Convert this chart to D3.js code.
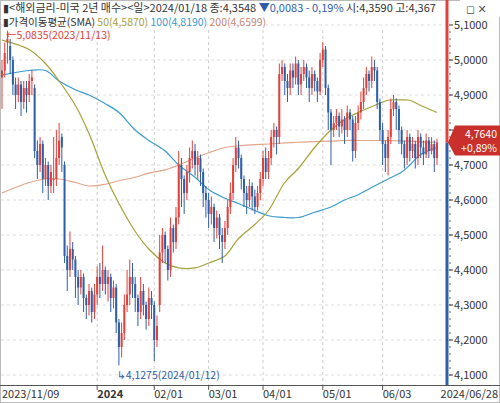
<!DOCTYPE html><html><head><meta charset="utf-8"><script src="https://cdn.jsdelivr.net/npm/d3@7"></script>
<style>body{margin:0;background:#fff}text{font-family:"Noto Sans CJK KR","DejaVu Sans",sans-serif}</style></head><body>
<svg id="c" width="500" height="403"></svg>
<script>
// [open, close, high, low]
const candles = [
[4.95,4.97,5.00,4.86],[4.97,5.02,5.05,4.95],[5.05,5.06,5.0835,4.99],[5.04,5.00,5.06,4.96],[5.00,4.93,5.01,4.90],
[4.93,4.90,4.95,4.86],[4.90,4.93,4.95,4.88],[4.93,4.88,4.94,4.84],[4.88,4.92,4.94,4.86],[4.92,4.90,4.94,4.85],[4.90,4.94,4.96,4.88],[4.94,4.95,4.97,4.90],
[4.92,4.74,4.93,4.72],[4.74,4.70,4.77,4.66],[4.70,4.76,4.78,4.68],[4.76,4.66,4.77,4.62],[4.66,4.70,4.72,4.64],[4.70,4.64,4.71,4.60],[4.64,4.68,4.70,4.62],[4.66,4.66,4.78,4.62],[4.66,4.72,4.80,4.64],[4.72,4.77,4.82,4.70],[4.78,4.75,4.79,4.68],
[4.70,4.44,4.71,4.42],[4.44,4.40,4.47,4.34],[4.40,4.46,4.51,4.38],[4.46,4.43,4.48,4.40],[4.43,4.38,4.44,4.32],[4.38,4.35,4.40,4.30],[4.35,4.38,4.40,4.33],[4.38,4.32,4.39,4.28],[4.32,4.30,4.33,4.26],[4.30,4.34,4.36,4.27],[4.34,4.28,4.35,4.25],[4.28,4.33,4.36,4.26],[4.33,4.38,4.41,4.30],[4.38,4.36,4.42,4.32],
[4.36,4.40,4.47,4.34],[4.40,4.36,4.41,4.33],[4.36,4.38,4.40,4.31],[4.38,4.32,4.39,4.28],[4.32,4.35,4.37,4.29],[4.35,4.25,4.36,4.22],[4.25,4.18,4.26,4.1275],[4.18,4.22,4.25,4.15],[4.22,4.30,4.33,4.20],
[4.30,4.33,4.40,4.28],[4.33,4.38,4.43,4.30],[4.38,4.36,4.42,4.32],[4.36,4.32,4.38,4.28],[4.32,4.28,4.33,4.24],[4.28,4.34,4.38,4.26],[4.34,4.30,4.36,4.27],[4.30,4.26,4.31,4.23],[4.26,4.32,4.35,4.24],[4.32,4.30,4.34,4.26],[4.30,4.20,4.31,4.14],[4.20,4.24,4.27,4.18],
[4.30,4.45,4.50,4.28],[4.45,4.50,4.52,4.42],[4.50,4.46,4.51,4.42],[4.46,4.40,4.47,4.37],[4.40,4.52,4.55,4.38],[4.52,4.48,4.53,4.45],[4.48,4.55,4.58,4.46],
[4.55,4.70,4.74,4.53],[4.70,4.66,4.72,4.58],[4.66,4.62,4.67,4.56],[4.62,4.68,4.70,4.60],[4.68,4.72,4.75,4.65],[4.72,4.74,4.77,4.69],[4.74,4.70,4.76,4.67],[4.70,4.72,4.74,4.66],
[4.72,4.68,4.73,4.64],[4.68,4.62,4.69,4.58],[4.62,4.60,4.64,4.55],[4.60,4.56,4.62,4.52],[4.56,4.58,4.61,4.53],[4.58,4.52,4.59,4.48],[4.52,4.55,4.57,4.49],[4.55,4.50,4.56,4.46],[4.50,4.48,4.52,4.42],[4.48,4.52,4.54,4.46],
[4.52,4.58,4.60,4.50],[4.58,4.62,4.65,4.56],[4.62,4.70,4.72,4.60],[4.70,4.75,4.78,4.68],[4.75,4.72,4.77,4.69],[4.72,4.66,4.73,4.63],
[4.66,4.62,4.67,4.58],[4.62,4.60,4.64,4.56],[4.60,4.64,4.66,4.58],[4.64,4.61,4.65,4.57],[4.61,4.58,4.63,4.56],[4.58,4.62,4.64,4.57],[4.62,4.66,4.68,4.60],[4.66,4.72,4.74,4.64],
[4.72,4.68,4.75,4.66],[4.68,4.72,4.74,4.66],[4.72,4.78,4.80,4.70],[4.78,4.80,4.82,4.75],[4.80,4.78,4.81,4.73],[4.78,4.96,4.99,4.76],
[4.96,4.98,5.00,4.94],[4.98,4.94,4.99,4.90],[4.94,4.92,4.96,4.88],[4.92,4.97,4.99,4.90],[4.97,4.95,4.99,4.92],[4.95,4.99,5.01,4.93],[4.99,4.93,5.00,4.90],[4.93,4.96,4.98,4.90],
[4.96,4.98,5.00,4.94],[4.98,4.95,4.99,4.92],[4.95,4.92,4.97,4.88],[4.92,4.96,4.98,4.90],[4.96,4.94,4.97,4.91],[4.94,4.91,4.95,4.88],[4.91,5.00,5.02,4.90],[5.00,5.03,5.05,4.98],
[5.03,4.92,5.04,4.90],[4.92,4.85,4.93,4.80],[4.85,4.80,4.86,4.70],[4.80,4.82,4.84,4.78],[4.82,4.84,4.86,4.80],[4.84,4.81,4.85,4.78],[4.81,4.83,4.86,4.79],[4.83,4.80,4.84,4.76],[4.80,4.85,4.87,4.78],[4.85,4.83,4.86,4.80],[4.83,4.74,4.84,4.71],
[4.74,4.82,4.84,4.72],[4.82,4.85,4.87,4.80],[4.85,4.88,4.91,4.83],[4.88,4.92,4.95,4.86],[4.92,4.96,4.98,4.90],[4.96,4.94,4.97,4.91],[4.94,4.98,5.01,4.92],[4.98,4.97,5.00,4.94],[4.97,4.88,4.98,4.86],[4.88,4.80,4.89,4.77],
[4.80,4.76,4.82,4.70],[4.76,4.72,4.77,4.68],[4.72,4.78,4.80,4.67],[4.78,4.86,4.89,4.76],[4.86,4.88,4.90,4.84],[4.88,4.86,4.89,4.80],[4.86,4.80,4.87,4.76],
[4.80,4.76,4.81,4.73],[4.76,4.72,4.77,4.69],[4.72,4.78,4.80,4.70],[4.78,4.74,4.79,4.71],[4.74,4.76,4.78,4.72],[4.76,4.72,4.77,4.69],[4.72,4.78,4.80,4.70],[4.78,4.75,4.79,4.72],[4.75,4.73,4.77,4.70],[4.73,4.77,4.79,4.72],[4.77,4.74,4.78,4.72],[4.74,4.76,4.78,4.73],[4.76,4.72,4.77,4.68],[4.72,4.764,4.775,4.70]
];
// moving averages sampled at candle index
const maIdx = [0,10,16,21,27,32,38,43,49,54,60,65,71,76,82,87,93,98,104,109,115,121,126,131,137,142,147,150,154,160];
const sma50  = [5.057,5.03,4.99,4.94,4.87,4.79,4.67,4.59,4.51,4.46,4.42,4.406,4.406,4.42,4.44,4.49,4.53,4.57,4.65,4.69,4.75,4.80,4.83,4.85,4.87,4.885,4.886,4.885,4.87,4.85];
const sma100 = [4.957,4.97,4.97,4.94,4.915,4.90,4.875,4.85,4.80,4.77,4.74,4.70,4.665,4.63,4.605,4.59,4.57,4.555,4.55,4.55,4.565,4.58,4.60,4.615,4.64,4.66,4.68,4.70,4.73,4.75];
const sma200 = [4.62,4.65,4.66,4.66,4.65,4.64,4.645,4.655,4.665,4.677,4.686,4.70,4.72,4.735,4.75,4.755,4.758,4.76,4.763,4.765,4.767,4.768,4.77,4.77,4.77,4.77,4.769,4.768,4.766,4.765];
const yTicks = [4.1,4.2,4.3,4.4,4.5,4.6,4.7,4.8,4.9,5.0,5.1];
const xTickIdx = [35,56,76,96,118,140];
const xTickLab = ["2024","02/01","03/01","04/01","05/01","06/03"];

const svg = d3.select("#c");
const x = d3.scaleLinear().domain([0,160]).range([2,437]);
const y = d3.scaleLinear().domain([4.1,5.1]).range([375,25]);
const fmt = v => d3.format(".4f")(v).replace(".",",");
const RED="#e0413a", BLUE="#2f5ea8";

svg.append("rect").attr("x",0.5).attr("y",0.5).attr("width",499).attr("height",402).attr("fill","#fff").attr("stroke","#bbb");
svg.append("g").selectAll("line").data(yTicks).join("line")
 .attr("x1",1).attr("x2",447).attr("y1",d=>y(d)).attr("y2",d=>y(d))
 .attr("stroke","#ddd").attr("stroke-dasharray","3,3");
svg.append("g").selectAll("line").data(xTickIdx).join("line")
 .attr("x1",d=>x(d)).attr("x2",d=>x(d)).attr("y1",30).attr("y2",385)
 .attr("stroke","#ccc").attr("stroke-dasharray","3,3");

const line = d3.line().x(d=>x(d[0])).y(d=>y(d[1])).curve(d3.curveCatmullRom);
[[sma200,"#e3a58a"],[sma100,"#3a9bd0"],[sma50,"#a8a23a"]].forEach(([s,c])=>{
 svg.append("path").attr("d",line(maIdx.map((v,i)=>[v,s[i]]))).attr("fill","none").attr("stroke",c).attr("stroke-width",1.2);
});

const g = svg.append("g");
candles.forEach((d,i)=>{
 const [o,c,h,l]=d; const col = c>=o?RED:BLUE; const cx=x(i);
 g.append("line").attr("x1",cx).attr("x2",cx).attr("y1",y(h)).attr("y2",y(l)).attr("stroke",col).attr("stroke-width",1);
 g.append("rect").attr("x",cx-1).attr("width",2).attr("y",y(Math.max(o,c))).attr("height",Math.max(1,Math.abs(y(o)-y(c)))).attr("fill",col);
});

const last = candles[candles.length-1][1];
svg.append("line").attr("x1",447).attr("x2",447).attr("y1",0).attr("y2",y(last)).attr("stroke",RED).attr("stroke-width",3);
svg.append("line").attr("x1",447).attr("x2",447).attr("y1",y(last)).attr("y2",385).attr("stroke",BLUE).attr("stroke-width",3);
const ya = svg.append("g");
yTicks.forEach(t=>{
 ya.append("line").attr("x1",449).attr("x2",453).attr("y1",y(t)).attr("y2",y(t)).attr("stroke","#333");
 ya.append("text").attr("x",454).attr("y",y(t)+4).attr("font-size",11).attr("fill","#333").text(fmt(t));
});
d3.range(4.1,5.1,0.02).forEach(t=>ya.append("line").attr("x1",449).attr("x2",451).attr("y1",y(t)).attr("y2",y(t)).attr("stroke","#666"));
svg.append("path").attr("d",`M448,${y(last)} L455,${y(last)-17} L500,${y(last)-17} L500,${y(last)+13} L455,${y(last)+13} Z`).attr("fill","#c9302c");
svg.append("text").attr("x",497).attr("y",y(last)-5).attr("text-anchor","end").attr("font-size",10.5).attr("fill","#fff").text(fmt(last));
svg.append("text").attr("x",497).attr("y",y(last)+9).attr("text-anchor","end").attr("font-size",10.5).attr("fill","#fff").text("+0,89%");

svg.append("line").attr("x1",0).attr("x2",500).attr("y1",385.5).attr("y2",385.5).attr("stroke","#555");
svg.append("text").attr("x",2).attr("y",398).attr("font-size",11).attr("fill","#333").text("2023/11/09");
xTickIdx.forEach((t,i)=>{
 svg.append("line").attr("x1",x(t)).attr("x2",x(t)).attr("y1",386).attr("y2",390).attr("stroke","#555");
 svg.append("text").attr("x",x(t)).attr("y",398).attr("font-size",11).attr("fill","#333").attr("font-weight",i==0?"bold":"normal").text(xTickLab[i]);
});
svg.append("text").attr("x",498).attr("y",398).attr("text-anchor","end").attr("font-size",11).attr("fill","#333").text("2024/06/28");

svg.append("text").attr("x",6).attr("y",39).attr("font-size",10.5).attr("fill",RED).text("←5,0835(2023/11/13)");
svg.append("text").attr("x",x(43)-2).attr("y",379).attr("font-size",10.5).attr("fill",BLUE).text("↳4,1275(2024/01/12)");

const h1 = svg.append("text").attr("x",3).attr("y",12).attr("font-size",11);
h1.append("tspan").attr("fill","#333").text("▮<해외금리-미국 2년 매수><일>2024/01/18 종:4,3548 ");
h1.append("tspan").attr("fill",BLUE).text("▼0,0083  - 0,19% ");
h1.append("tspan").attr("fill","#333").text("시:4,3590 고:4,367");
svg.append("rect").attr("x",460).attr("y",0).attr("width",40).attr("height",17).attr("fill","#fff");
svg.append("text").attr("x",466).attr("y",13).attr("font-size",11).attr("fill","#555").text("◻ ✕");
const h2 = svg.append("text").attr("x",3).attr("y",26).attr("font-size",10.5);
h2.append("tspan").attr("fill","#333").text("▮가격이동평균(SMA) ");
h2.append("tspan").attr("fill","#a8a23a").text("50(4,5870) ");
h2.append("tspan").attr("fill","#3a9bd0").text("100(4,8190) ");
h2.append("tspan").attr("fill","#c98a70").text("200(4,6599)");
</script></body></html>
